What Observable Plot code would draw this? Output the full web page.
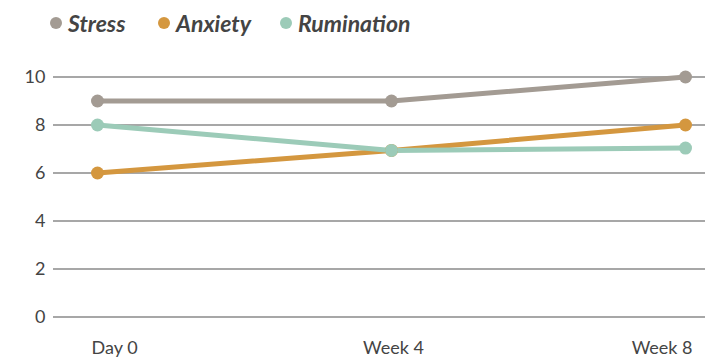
<!DOCTYPE html>
<html>
<head>
<meta charset="utf-8">
<script src="https://cdn.jsdelivr.net/npm/d3@7"></script>
<script src="https://cdn.jsdelivr.net/npm/@observablehq/plot@0.6"></script>
<style>
  html, body { margin: 0; padding: 0; background: #fff; overflow: hidden; }
  body { width: 705px; height: 361px; font-family: Lato, "Open Sans", sans-serif; }
  .legend { height: 45px; position: relative; }
  .legend .item { position: absolute; top: 10px; display: flex; align-items: center; font-size: 23px; font-weight: bold; font-style: italic; color: #444; line-height: 26px; }
  .legend .dot { width: 12px; height: 12px; border-radius: 50%; margin-right: 6px; }
  svg { display: block; }
</style>
</head>
<body>
<div class="legend" id="legend"></div>
<div id="chart"></div>
<script>
// Time points and measured scores per series
const timepoints = ["Day 0", "Week 4", "Week 8"];
const seriesNames = ["Stress", "Anxiety", "Rumination"];
const stress = [9, 9, 10];
const anxiety = [6, 6.94, 8];
const rumination = [8, 6.94, 7.04];
const yTicks = [0, 2, 4, 6, 8, 10];
const colors = ["#a39b93", "#d4973f", "#9ccbb8"];

const values = [stress, anxiety, rumination];
const rows = seriesNames.flatMap((name, i) =>
  timepoints.map((t, j) => ({series: name, time: t, value: values[i][j]}))
);

// Legend: swatch + italic label for each series
const legend = document.getElementById("legend");
const legendLeft = [50, 158, 280];
seriesNames.forEach((name, i) => {
  const item = document.createElement("div");
  item.className = "item";
  item.style.left = legendLeft[i] + "px";
  const dot = document.createElement("span");
  dot.className = "dot";
  dot.style.background = colors[i];
  item.appendChild(dot);
  item.appendChild(document.createTextNode(name));
  legend.appendChild(item);
});

// x tick labels: the outer ones are pulled inward so they stay inside the frame
const xAxisOpts = {tickSize: 0, tickPadding: 24, fontSize: 18, fill: "#444", label: null};

const chart = Plot.plot({
  width: 705,
  height: 316,
  marginLeft: 53,
  marginRight: 0,
  marginTop: 31.5,
  marginBottom: 44.5,
  style: {fontFamily: "Lato, 'Open Sans', sans-serif", fontSize: "18px", color: "#444"},
  x: {type: "point", domain: timepoints, range: [96, 685], padding: 0, label: null},
  y: {domain: [0, 10], ticks: yTicks, label: null},
  color: {domain: seriesNames, range: colors},
  marks: [
    Plot.ruleY(yTicks, {stroke: "#8a8a8a", strokeWidth: 1.5}),
    Plot.axisY(yTicks, {tickSize: 0, tickPadding: 8, fontSize: 18, fill: "#444", label: null}),
    Plot.axisX([timepoints[0]], {...xAxisOpts, textAnchor: "start", dx: -6}),
    Plot.axisX([timepoints[1]], {...xAxisOpts, dx: 2}),
    Plot.axisX([timepoints[2]], {...xAxisOpts, textAnchor: "end", dx: 7}),
    Plot.line(rows, {x: "time", y: "value", z: "series", stroke: "series", strokeWidth: 5, curve: "linear"}),
    Plot.dot(rows, {x: "time", y: "value", fill: "series", r: 6.5})
  ]
});
document.getElementById("chart").appendChild(chart);
</script>
</body>
</html>
